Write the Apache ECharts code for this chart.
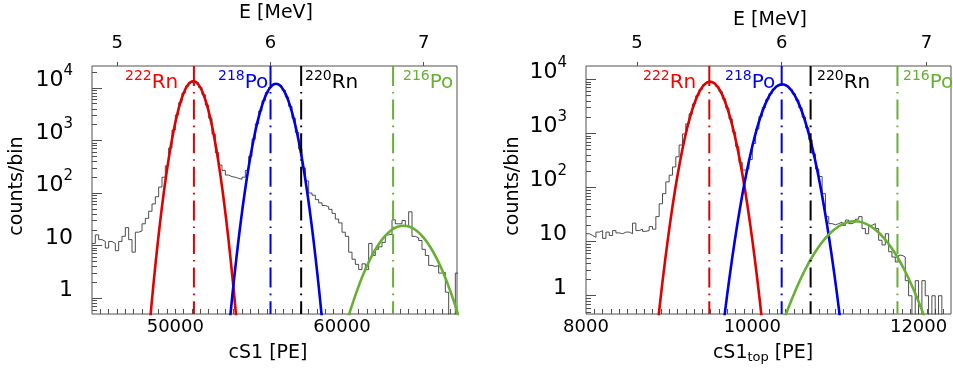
<!DOCTYPE html>
<html><head><meta charset="utf-8">
<script src="https://cdn.jsdelivr.net/npm/echarts@6/dist/echarts.min.js"></script>
<style>html,body{margin:0;padding:0;background:#fff}#c{width:953px;height:371px}</style>
</head><body><div id="c"></div>
<script>
// ---------------- DATA ----------------
// Left panel histogram: cS1 [PE], bins of 200 PE starting at 45000
const leftBinStart = 45000;
const leftBinWidth = 200;
const leftCounts = [
  11, 16, 13, 12, 9, 12, 11, 8, 12, 15,
  22, 13, 7.5, 18, 19, 26, 33, 45, 62, 85,
  130, 200, 330, 720, 1580, 3050, 5250, 8000, 10800, 12800,
  13400, 12500, 10200, 7400, 4700, 2650, 1320, 590, 340, 270,
  220, 205, 200, 190, 183, 200, 270, 500, 1060, 2070,
  3640, 5730, 8100, 10300, 11700, 11950, 11000, 9000, 6700, 4450,
  2650, 1420, 690, 300, 170, 100, 91, 75, 65, 58,
  55, 49, 41, 32, 27, 18, 15, 7.5, 5.5, 4.4,
  3.5, 4.5, 3.5, 11, 6.5, 8.5, 9.5, 11.5, 16, 16.5,
  31, 26, 26, 30, 23, 44, 15, 14, 12.5, 8.5,
  6.5, 4.2, 4, 4.2, 3, 3.1, 1.3, 0, 0, 3
];
// Right panel histogram: cS1_top [PE], bins of 40 PE starting at 8000
const rightBinStart = 8000;
const rightBinWidth = 40;
const rightCounts = [
  14, 13, 12, 15, 16, 11.5, 15, 13, 16, 14.5,
  14, 15, 15, 14, 22, 16, 17, 15.5, 16, 19,
  17, 29, 50, 77, 127, 169, 240, 370, 610, 975,
  1500, 2300, 3500, 4950, 6500, 7900, 8800, 9000, 8500, 7400,
  5900, 4350, 2950, 1850, 1060, 570, 290, 210, 220, 330,
  650, 1200, 2040, 3020, 4190, 5430, 6600, 7500, 8000, 8000,
  7480, 6550, 5370, 4130, 2970, 2000, 1270, 760, 420, 220,
  160, 77, 29, 21.5, 20.5, 21.5, 23, 20, 25, 21.5,
  23, 26, 29, 17.4, 14, 20, 21.5, 17.4, 10.6, 8.7,
  14, 6.5, 5.2, 4.2, 5.6, 5.2, 1.9, 1, 0, 1.9,
  0, 1.9, 1, 0, 1, 0, 1, 0, 0, 0
];
// Fitted peak curves: [cS1, counts/bin]
const leftRn222Fit = [[48328,0.104],[48578,0.80],[48828,5.08],[49078,26.57],[49328,114.3],[49578,405.2],[49828,1182],[50078,2836],[50328,5607],[50578,9120],[50828,12210],[51078,13460],[51328,12210],[51578,9120],[51828,5607],[52078,2836],[52328,1182],[52578,405.2],[52828,114.3],[53078,26.57],[53328,5.08],[53578,0.80],[53828,0.104]];
const leftPo218Fit  = [[53040,0.062],[53290,0.434],[53540,2.563],[53790,12.77],[54040,53.74],[54290,191.0],[54540,573.2],[54790,1452],[55040,3109],[55290,5617],[55540,8575],[55790,11050],[56040,12020],[56290,11050],[56540,8575],[56790,5617],[57040,3109],[57290,1452],[57540,573.2],[57790,191.0],[58040,53.74],[58290,12.77],[58540,2.563],[58790,0.434],[59040,0.062]];
const leftPo216Fit  = [[60096,0.2146],[60496,0.577],[60896,1.380],[61296,2.940],[61696,5.577],[62096,9.415],[62496,14.15],[62896,18.92],[63296,22.53],[63696,23.88],[64096,22.53],[64496,18.92],[64896,14.15],[65296,9.415],[65696,5.577],[66096,2.940],[66496,1.380],[66896,0.577],[67296,0.2146]];
const rightRn222Fit = [[8832,0.1076],[8892,0.770],[8952,4.566],[9012,22.46],[9072,91.6],[9132,309.7],[9192,868.1],[9252,2017],[9312,3888],[9372,6212],[9432,8228],[9492,9036],[9552,8228],[9612,6212],[9672,3888],[9732,2017],[9792,868.1],[9852,309.7],[9912,91.6],[9972,22.46],[10032,4.566],[10092,0.770],[10152,0.1076]];
const rightPo218Fit  = [[9639,0.1965],[9699,1.072],[9759,5.047],[9819,20.50],[9879,71.84],[9939,217.3],[9999,567.0],[10059,1276],[10119,2480],[10179,4155],[10239,6009],[10299,7499],[10359,8072],[10419,7499],[10479,6009],[10539,4155],[10599,2480],[10659,1276],[10719,567.0],[10779,217.3],[10839,71.84],[10899,20.50],[10959,5.047],[11019,1.072],[11079,0.1965]];
const rightPo216Fit  = [[10332,0.2194],[10432,0.586],[10532,1.396],[10632,2.962],[10732,5.597],[10832,9.419],[10932,14.12],[11032,18.86],[11132,22.44],[11232,23.77],[11332,22.44],[11432,18.86],[11532,14.12],[11632,9.419],[11732,5.597],[11832,2.962],[11932,1.396],[12032,0.586],[12132,0.2194]];
// Alpha-line energies [MeV] and isotope labels
const lineEnergies = [5.50, 6.00, 6.20, 6.80];
const isoMass = ['222', '218', '220', '216'];
const isoName = ['Rn', 'Po', 'Rn', 'Po'];
// Tick labels
const yTickValues = [1, 10, 100, 1000, 10000];
const eTickValues = [5, 6, 7];
const leftXTickLabels = [50000, 60000];
const rightXTickLabels = [8000, 10000, 12000];

// ---------------- STYLE / LAYOUT ----------------
const FF = 'DejaVu Sans';
const lineColors = ['#e00000', '#0000e6', '#000000', '#66b032'];
const textColors = ['#ff0000', '#0000ff', '#000000', '#66b032'];
const FRAME = '#505050';
const panels = [
  {left: 92, xMin: 45000, xMax: 66900, eMin: 4.835, eMax: 7.217, yMin: 0.5, yMax: 26100,
   binStart: leftBinStart, binWidth: leftBinWidth, counts: leftCounts,
   fits: [leftRn222Fit, leftPo218Fit, leftPo216Fit], xLabels: leftXTickLabels, minorStep: 500,
   labelX: [125, 218, 305, 403], eTitleY: 13, xTitle: 'cS1 [PE]', xTitleX: 268, ylabX: 17.5},
  {left: 586, xMin: 8000, xMax: 12390, eMin: 4.648, eMax: 7.170, yMin: 0.46, yMax: 17600,
   binStart: rightBinStart, binWidth: rightBinWidth, counts: rightCounts,
   fits: [rightRn222Fit, rightPo218Fit, rightPo216Fit], xLabels: rightXTickLabels, minorStep: 100,
   labelX: [643, 725, 817, 903], eTitleY: 20, xTitle: 'cS1{sub|top} [PE]', xTitleX: 763, ylabX: 513}
];

function histData(start, width, counts) {
  const d = counts.map((c, i) => [start + i * width, c > 0 ? c : 0.02]);
  const last = counts[counts.length - 1];
  d.push([start + counts.length * width, last > 0 ? last : 0.02]);
  return d;
}
function logMinor(min, max) {
  const v = [];
  for (let e = -1; e <= 5; e++) for (let m = 2; m <= 9; m++) {
    const x = m * Math.pow(10, e); if (x > min && x < max) v.push(x);
  }
  return v;
}
function stepTicks(min, max, step) {
  const v = [];
  for (let x = Math.ceil(min / step) * step; x < max; x += step) if (x > min) v.push(x);
  return v;
}
function powLabel(v) {
  const e = Math.round(Math.log10(v));
  if (e < 2) return '{b|' + Math.round(v) + '}';
  return '{b|10}{s|' + e + '}';
}

const grids = [], xAxes = [], yAxes = [], series = [], graphics = [];
panels.forEach((p, k) => {
  grids.push({left: p.left, top: 66, width: 365, height: 248, show: true,
    borderColor: FRAME, borderWidth: 1, backgroundColor: 'transparent'});
  const xb = xAxes.length;
  xAxes.push({type: 'value', gridIndex: k, position: 'bottom', min: p.xMin, max: p.xMax,
    axisLine: {show: false}, splitLine: {show: false},
    axisTick: {show: true, inside: true, length: 5, lineStyle: {color: FRAME, width: 1},
      customValues: stepTicks(p.xMin, p.xMax, p.minorStep)},
    axisLabel: {customValues: p.xLabels, formatter: v => String(v), margin: 4,
      fontFamily: FF, fontSize: 18, color: '#000'}});
  xAxes.push({type: 'value', gridIndex: k, position: 'top', min: p.eMin, max: p.eMax,
    axisLine: {show: false}, splitLine: {show: false},
    axisTick: {show: true, inside: false, length: 4, lineStyle: {color: FRAME, width: 1}, customValues: eTickValues},
    axisLabel: {customValues: eTickValues, formatter: v => String(v), margin: 14,
      fontFamily: FF, fontSize: 18, color: '#000'}});
  const yb = yAxes.length;
  yAxes.push({type: 'log', logBase: 10, gridIndex: k, position: 'left', min: p.yMin, max: p.yMax,
    axisLine: {show: false}, splitLine: {show: false}, minorTick: {show: false},
    axisTick: {show: true, inside: true, length: 10, lineStyle: {color: FRAME, width: 1}, customValues: yTickValues},
    axisLabel: {customValues: yTickValues, formatter: powLabel, margin: 19, padding: [0, 0, 15, 0], color: '#000',
      fontFamily: FF, fontSize: 22,
      rich: {b: {fontFamily: FF, fontSize: 22, color: '#000'},
             s: {fontFamily: FF, fontSize: 15, color: '#000', padding: [0, 0, 18, 0]}}}});
  yAxes.push({type: 'log', logBase: 10, gridIndex: k, position: 'left', offset: 0, min: p.yMin, max: p.yMax,
    axisLine: {show: false}, splitLine: {show: false}, axisLabel: {show: false},
    axisTick: {show: true, inside: true, length: 5, lineStyle: {color: FRAME, width: 1}, customValues: logMinor(p.yMin, p.yMax)}});

  // histogram
  series.push({type: 'line', xAxisIndex: xb, yAxisIndex: yb, step: 'end', symbol: 'none', clip: true,
    lineStyle: {color: '#3a3a3a', width: 0.9}, data: histData(p.binStart, p.binWidth, p.counts), z: 2, silent: true});
  // fits
  p.fits.forEach((f, i) => {
    const col = [lineColors[0], lineColors[1], lineColors[3]][i];
    series.push({type: 'line', xAxisIndex: xb, yAxisIndex: yb, smooth: 0.3, symbol: 'none', clip: true,
      lineStyle: {color: col, width: 2.6}, data: f, z: 3, silent: true});
  });
  // alpha lines on the energy axis
  lineEnergies.forEach((E, i) => {
    series.push({type: 'line', xAxisIndex: xb + 1, yAxisIndex: yb, symbol: 'none', clip: true,
      lineStyle: {color: lineColors[i], width: 2, type: [20, 6, 1.6, 6]}, data: [[E, p.yMax], [E, p.yMin]], z: 4, silent: true});
    graphics.push({type: 'text', x: p.labelX[i], y: 83, z: 10,
      style: {text: '{s|' + isoMass[i] + '}{b|' + isoName[i] + '}', align: 'left', verticalAlign: 'middle',
        rich: {s: {fontFamily: FF, fontSize: 14, fill: textColors[i], padding: [0, 0, 14, 0]},
               b: {fontFamily: FF, fontSize: 20, fill: textColors[i]}}}});
  });
  // titles
  graphics.push({type: 'text', x: p.ylabX, y: 186, rotation: Math.PI / 2,
    style: {text: 'counts/bin', font: '19px "DejaVu Sans"', fill: '#000', align: 'center', verticalAlign: 'middle'}});
  graphics.push({type: 'text', x: p.left + 184, y: p.eTitleY,
    style: {text: 'E [MeV]', font: '19px "DejaVu Sans"', fill: '#000', align: 'center', verticalAlign: 'middle'}});
  graphics.push({type: 'text', x: p.xTitleX, y: 353,
    style: {text: '{b|' + p.xTitle.replace('{sub|top}', '}{sub|top}{b|') + '}', align: 'center', verticalAlign: 'middle',
      rich: {b: {fontFamily: FF, fontSize: 19, fill: '#000'},
             sub: {fontFamily: FF, fontSize: 13, fill: '#000', padding: [9, 0, 0, 0]}}}});
});

const chart = echarts.init(document.getElementById('c'), null, {renderer: 'canvas'});
chart.setOption({
  animation: false,
  backgroundColor: '#fff',
  grid: grids, xAxis: xAxes, yAxis: yAxes, series: series, graphic: graphics
});
</script></body></html>
